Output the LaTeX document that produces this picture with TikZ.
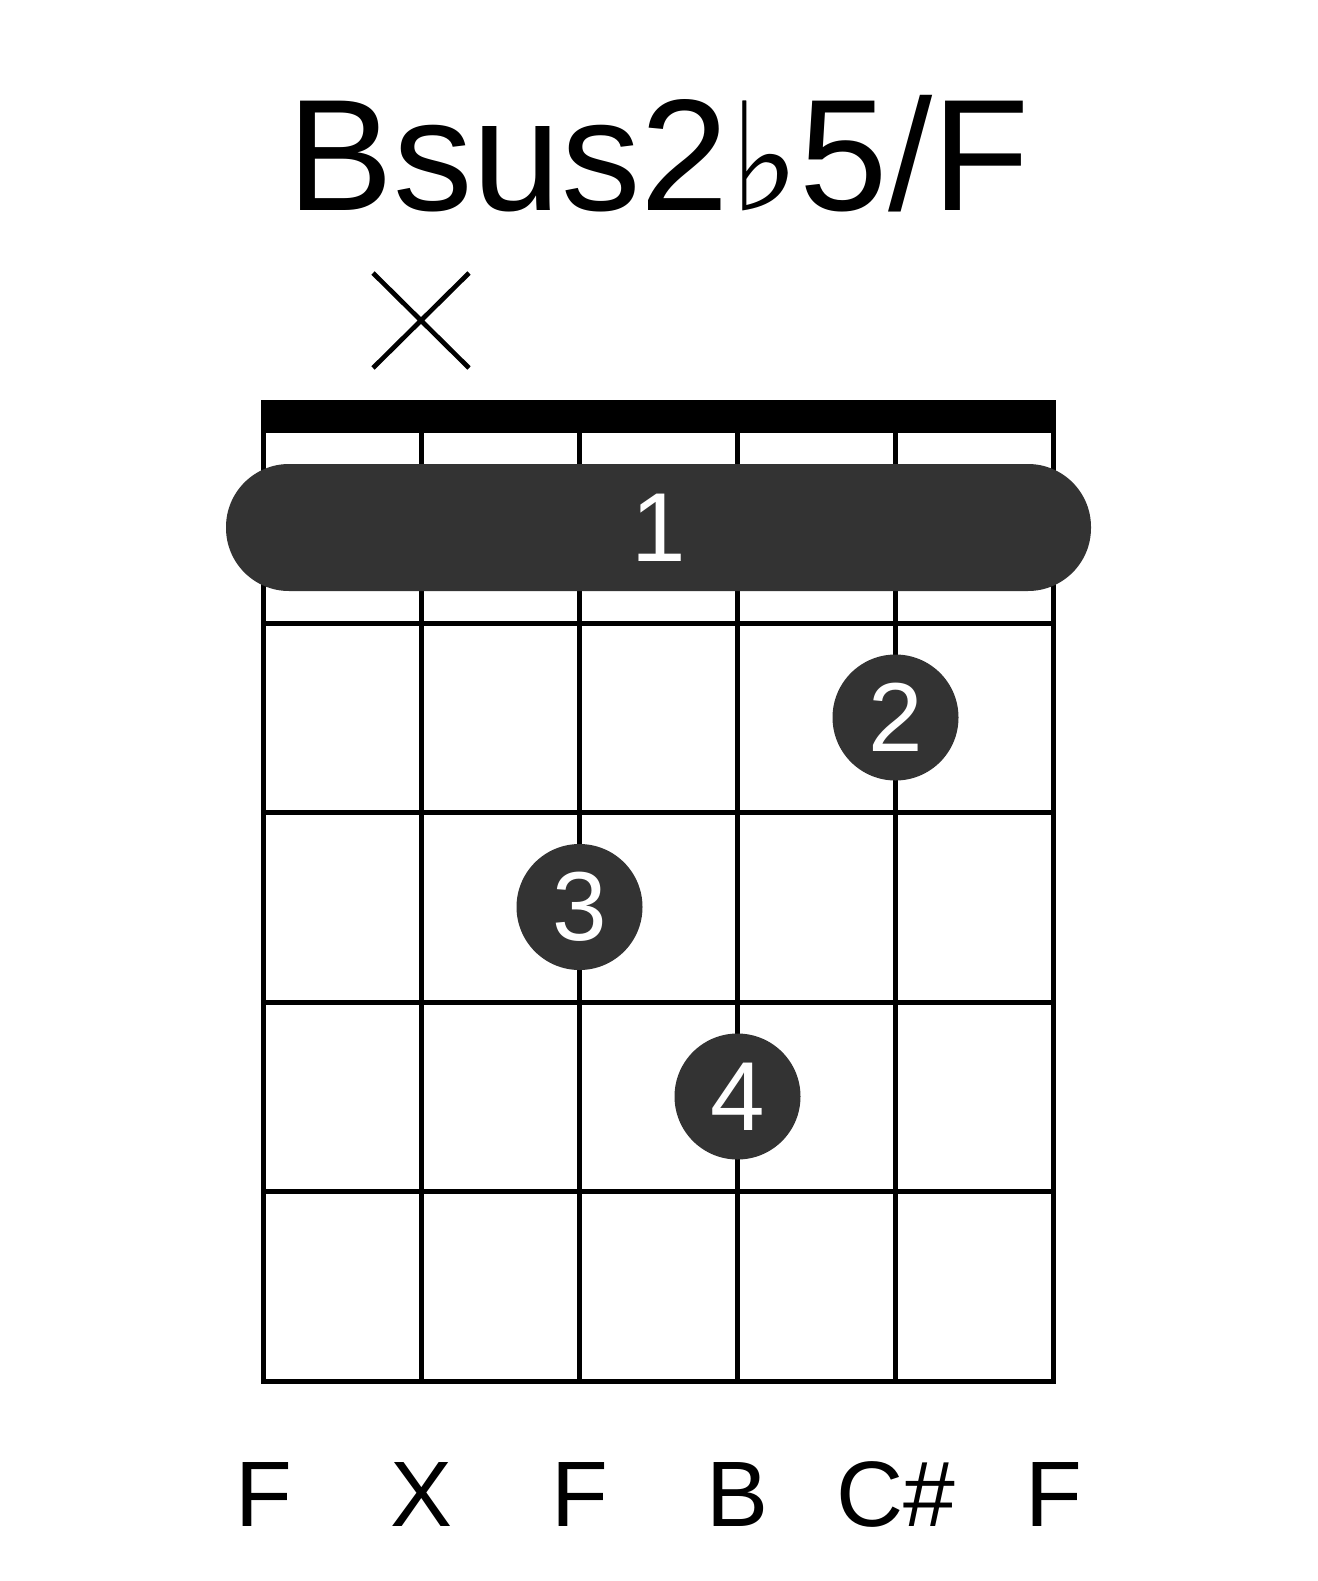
\documentclass[tikz,border=0pt]{standalone}
\usepackage{fontspec}
\setmainfont{Liberation Sans}
\newfontfamily\symfont{DejaVu Sans}
\definecolor{dotgray}{HTML}{333333}
\begin{document}
\begin{tikzpicture}[x=1pt,y=-1pt,
  gridline/.style={line width=5pt},
  fingerdot/.style={circle,fill=dotgray,minimum size=126pt,inner sep=0pt,text=white,font=\fontsize{98}{110}\selectfont},
  strlabel/.style={anchor=base,inner sep=0pt,font=\fontsize{93}{110}\selectfont}]
\useasboundingbox[fill=white] (0,0) rectangle (1317,1581);
% title
\node[anchor=base,inner sep=0pt,font=\fontsize{159}{190}\selectfont] (title) at (658.5,210) {Bsus2{\symfont\fontsize{150}{180}\selectfont ♭}5/F};
% muted string mark
\draw[line width=4.7pt] (373,273) -- (469,368) (373,368) -- (469,273);
% nut
\fill (261,400) rectangle (1056,433);
% strings
\foreach \x in {263.5,421.5,579.5,737.5,895.5,1053.5}
  \draw[gridline] (\x,433) -- (\x,1381);
% frets
\foreach \y in {623,812.5,1002,1191.5}
  \draw[gridline] (263.5,\y) -- (1053.5,\y);
\draw[gridline,line cap=rect] (263.5,1381) -- (1053.5,1381);
% barre
\fill[dotgray,rounded corners=63pt] (226,464) rectangle (1091,591);
\node[text=white,font=\fontsize{98}{110}\selectfont,inner sep=0pt] (barre) at (658.5,527.5) {1};
% finger dots
\node[fingerdot] (d2) at (895.5,717.5) {2};
\node[fingerdot] (d3) at (579.5,907) {3};
\node[fingerdot] (d4) at (737.5,1096.5) {4};
% string labels
\node[strlabel] (l1) at (263.5,1526) {F};
\node[strlabel] (l2) at (421.5,1526) {X};
\node[strlabel] (l3) at (579.5,1526) {F};
\node[strlabel] (l4) at (737.5,1526) {B};
\node[strlabel] (l5) at (895.5,1526) {C\#};
\node[strlabel] (l6) at (1053.5,1526) {F};
\end{tikzpicture}
\end{document}
